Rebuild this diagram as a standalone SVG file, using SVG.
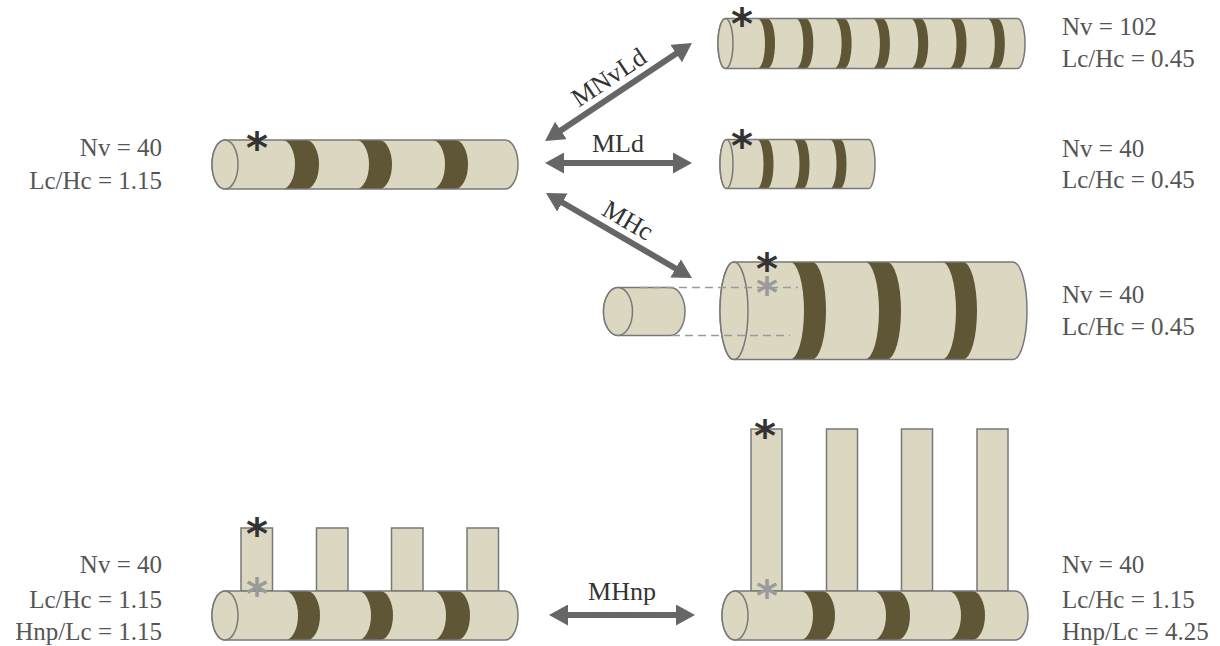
<svg xmlns="http://www.w3.org/2000/svg" width="1220" height="646" viewBox="0 0 1220 646">
  <style>
    .body { fill: #dcd7c1; }
    .outline { fill: none; stroke: #787878; stroke-width: 1.5; stroke-linejoin: round; }
    .end { fill: #dcd7c1; stroke: #787878; stroke-width: 1.5; }
    .band { fill: #5e5634; }
    .pillar { fill: #dcd7c1; stroke: #787878; stroke-width: 1.5; }
    .lbl { font-family: "Liberation Serif", "Times New Roman", serif; font-size: 25px; fill: #555; }
    .op { font-family: "Liberation Serif", "Times New Roman", serif; font-size: 26px; fill: #333; text-anchor: middle; }
    .star { font-family: "DejaVu Sans", sans-serif; font-size: 42px; font-weight: bold; text-anchor: middle; }
    .star-dark { fill: #333; }
    .star-light { fill: #9a9a9a; }
    .shaft { stroke: #666; stroke-width: 6; fill: none; marker-start: url(#head); marker-end: url(#head); }
    .guide { stroke: #9a9a9a; stroke-width: 1.5; stroke-dasharray: 8 5; fill: none; }
  </style>
  <defs>
    <marker id="head" viewBox="0 0 19 21" refX="11" refY="10.5" markerWidth="19" markerHeight="21" markerUnits="userSpaceOnUse" orient="auto-start-reverse">
      <path d="M0,0 L19,10.5 L0,21 Z" fill="#666"/>
    </marker>
  </defs>

  <rect width="1220" height="646" fill="#fff"/>

  <!-- reference chain, Nv = 40 -->
  <g id="base">
    <path class="body" d="M225,140 H505 A13,24.5 0 0 1 505,189 H225 A13,24.5 0 0 1 225,140 Z"/>
    <path class="band" d="M282,140 A13,24.5 0 0 1 282,189 H306 A13,24.5 0 0 0 306,140 Z"/>
    <path class="band" d="M356,140 A13,24.5 0 0 1 356,189 H379 A13,24.5 0 0 0 379,140 Z"/>
    <path class="band" d="M432,140 A13,24.5 0 0 1 432,189 H455 A13,24.5 0 0 0 455,140 Z"/>
    <path class="outline" d="M225,140 H505 A13,24.5 0 0 1 505,189 H225 A13,24.5 0 0 1 225,140 Z"/>
    <ellipse class="end" cx="225" cy="164.5" rx="13" ry="24.5"/>
    <text class="star star-dark" x="257" y="163">*</text>
    <text class="lbl" x="162" y="156" text-anchor="end">Nv = 40</text>
    <text class="lbl" x="162" y="189" text-anchor="end">Lc/Hc = 1.15</text>
  </g>

  <!-- MNvLd result, Nv = 102 -->
  <g id="mnvld">
    <path class="body" d="M725.5,18.5 H1017.5 A7.5,25 0 0 1 1017.5,68.5 H725.5 A7.5,25 0 0 1 725.5,18.5 Z"/>
    <path class="band" d="M757.5,18.5 A7.5,25 0 0 1 757.5,68.5 H767.5 A7.5,25 0 0 0 767.5,18.5 Z"/>
    <path class="band" d="M795.8,18.5 A7.5,25 0 0 1 795.8,68.5 H805.8 A7.5,25 0 0 0 805.8,18.5 Z"/>
    <path class="band" d="M834.1,18.5 A7.5,25 0 0 1 834.1,68.5 H844.1 A7.5,25 0 0 0 844.1,18.5 Z"/>
    <path class="band" d="M872.4,18.5 A7.5,25 0 0 1 872.4,68.5 H882.4 A7.5,25 0 0 0 882.4,18.5 Z"/>
    <path class="band" d="M910.7,18.5 A7.5,25 0 0 1 910.7,68.5 H920.7 A7.5,25 0 0 0 920.7,18.5 Z"/>
    <path class="band" d="M949,18.5 A7.5,25 0 0 1 949,68.5 H959 A7.5,25 0 0 0 959,18.5 Z"/>
    <path class="band" d="M987.3,18.5 A7.5,25 0 0 1 987.3,68.5 H997.3 A7.5,25 0 0 0 997.3,18.5 Z"/>
    <path class="outline" d="M725.5,18.5 H1017.5 A7.5,25 0 0 1 1017.5,68.5 H725.5 A7.5,25 0 0 1 725.5,18.5 Z"/>
    <ellipse class="end" cx="725.5" cy="43.5" rx="7.5" ry="25"/>
    <text class="star star-dark" x="742" y="39">*</text>
    <text class="lbl" x="1062" y="35">Nv = 102</text>
    <text class="lbl" x="1062" y="67">Lc/Hc = 0.45</text>
  </g>

  <!-- MLd result, shorter chain -->
  <g id="mld">
    <path class="body" d="M726.5,139.5 H868.5 A6.5,24.5 0 0 1 868.5,188.5 H726.5 A6.5,24.5 0 0 1 726.5,139.5 Z"/>
    <path class="band" d="M757,139.5 A6.5,24.5 0 0 1 757,188.5 H767 A6.5,24.5 0 0 0 767,139.5 Z"/>
    <path class="band" d="M793,139.5 A6.5,24.5 0 0 1 793,188.5 H803 A6.5,24.5 0 0 0 803,139.5 Z"/>
    <path class="band" d="M830,139.5 A6.5,24.5 0 0 1 830,188.5 H840 A6.5,24.5 0 0 0 840,139.5 Z"/>
    <path class="outline" d="M726.5,139.5 H868.5 A6.5,24.5 0 0 1 868.5,188.5 H726.5 A6.5,24.5 0 0 1 726.5,139.5 Z"/>
    <ellipse class="end" cx="726.5" cy="164" rx="6.5" ry="24.5"/>
    <text class="star star-dark" x="742" y="161">*</text>
    <text class="lbl" x="1062" y="157">Nv = 40</text>
    <text class="lbl" x="1062" y="188">Lc/Hc = 0.45</text>
  </g>

  <!-- MHc result, thicker chain with the original section for scale -->
  <g id="mhc">
    <path class="body" d="M618,287.5 H670.5 A14.5,24 0 0 1 670.5,335.5 H618 A14.5,24 0 0 1 618,287.5 Z"/>
    <path class="outline" d="M618,287.5 H670.5 A14.5,24 0 0 1 670.5,335.5 H618 A14.5,24 0 0 1 618,287.5 Z"/>
    <ellipse class="end" cx="618" cy="311.5" rx="14.5" ry="24"/>

    <path class="body" d="M734,262 H1013 A14,48.75 0 0 1 1013,359.5 H734 A14,48.75 0 0 1 734,262 Z"/>
    <path class="band" d="M790,262 A14,48.75 0 0 1 790,359.5 H812 A14,48.75 0 0 0 812,262 Z"/>
    <path class="band" d="M865,262 A14,48.75 0 0 1 865,359.5 H887 A14,48.75 0 0 0 887,262 Z"/>
    <path class="band" d="M942,262 A14,48.75 0 0 1 942,359.5 H963 A14,48.75 0 0 0 963,262 Z"/>
    <path class="outline" d="M734,262 H1013 A14,48.75 0 0 1 1013,359.5 H734 A14,48.75 0 0 1 734,262 Z"/>
    <ellipse class="end" cx="734" cy="310.75" rx="14" ry="48.75"/>

    <line class="guide" x1="640" y1="287.5" x2="798" y2="287.5"/>
    <line class="guide" x1="672" y1="335.5" x2="790" y2="335.5"/>

    <text class="star star-dark" x="767" y="284">*</text>
    <text class="star star-light" x="767" y="308">*</text>
    <text class="lbl" x="1062" y="303">Nv = 40</text>
    <text class="lbl" x="1062" y="335">Lc/Hc = 0.45</text>
  </g>

  <!-- chain with short side groups, Hnp/Lc = 1.15 -->
  <g id="np-short">
    <rect class="pillar" x="241" y="528" width="31.5" height="63"/>
    <rect class="pillar" x="316.5" y="528" width="31.5" height="63"/>
    <rect class="pillar" x="391.5" y="528" width="31.5" height="63"/>
    <rect class="pillar" x="467" y="528" width="31.5" height="63"/>
    <path class="body" d="M225,591 H505 A13,24.5 0 0 1 505,640 H225 A13,24.5 0 0 1 225,591 Z"/>
    <path class="band" d="M285,591 A13,24.5 0 0 1 285,640 H307 A13,24.5 0 0 0 307,591 Z"/>
    <path class="band" d="M358,591 A13,24.5 0 0 1 358,640 H380 A13,24.5 0 0 0 380,591 Z"/>
    <path class="band" d="M433,591 A13,24.5 0 0 1 433,640 H457 A13,24.5 0 0 0 457,591 Z"/>
    <path class="outline" d="M225,591 H505 A13,24.5 0 0 1 505,640 H225 A13,24.5 0 0 1 225,591 Z"/>
    <ellipse class="end" cx="225" cy="615.5" rx="13" ry="24.5"/>
    <text class="star star-dark" x="257" y="549">*</text>
    <text class="star star-light" x="257" y="609">*</text>
    <text class="lbl" x="162" y="573" text-anchor="end">Nv = 40</text>
    <text class="lbl" x="162" y="608" text-anchor="end">Lc/Hc = 1.15</text>
    <text class="lbl" x="162" y="640" text-anchor="end">Hnp/Lc = 1.15</text>
  </g>

  <!-- chain with long side groups, Hnp/Lc = 4.25 -->
  <g id="np-long">
    <rect class="pillar" x="751" y="429" width="31" height="162"/>
    <rect class="pillar" x="826.5" y="429" width="31" height="162"/>
    <rect class="pillar" x="901.5" y="429" width="31" height="162"/>
    <rect class="pillar" x="977" y="429" width="31" height="162"/>
    <path class="body" d="M735,591 H1015 A13,24.5 0 0 1 1015,640 H735 A13,24.5 0 0 1 735,591 Z"/>
    <path class="band" d="M800,591 A13,24.5 0 0 1 800,640 H822 A13,24.5 0 0 0 822,591 Z"/>
    <path class="band" d="M873,591 A13,24.5 0 0 1 873,640 H897 A13,24.5 0 0 0 897,591 Z"/>
    <path class="band" d="M948,591 A13,24.5 0 0 1 948,640 H972 A13,24.5 0 0 0 972,591 Z"/>
    <path class="outline" d="M735,591 H1015 A13,24.5 0 0 1 1015,640 H735 A13,24.5 0 0 1 735,591 Z"/>
    <ellipse class="end" cx="735" cy="615.5" rx="13" ry="24.5"/>
    <text class="star star-dark" x="765" y="451">*</text>
    <text class="star star-light" x="767" y="611">*</text>
    <text class="lbl" x="1062" y="573">Nv = 40</text>
    <text class="lbl" x="1062" y="608">Lc/Hc = 1.15</text>
    <text class="lbl" x="1062" y="640">Hnp/Lc = 4.25</text>
  </g>

  <!-- transformations between the chains -->
  <g id="connectors">
    <line class="shaft" x1="551.7" y1="136.6" x2="685.3" y2="47.4"/>
    <line class="shaft" x1="553" y1="163" x2="684" y2="163"/>
    <line class="shaft" x1="552.9" y1="197" x2="685.1" y2="274"/>
    <line class="shaft" x1="557" y1="615" x2="687" y2="615"/>
    <text class="op" transform="translate(618.5,92) rotate(-33.7)" x="0" y="-9">MNvLd</text>
    <text class="op" x="618" y="152">MLd</text>
    <text class="op" transform="translate(619,235.5) rotate(30.2)" x="0" y="-9">MHc</text>
    <text class="op" x="622" y="600">MHnp</text>
  </g>
</svg>
